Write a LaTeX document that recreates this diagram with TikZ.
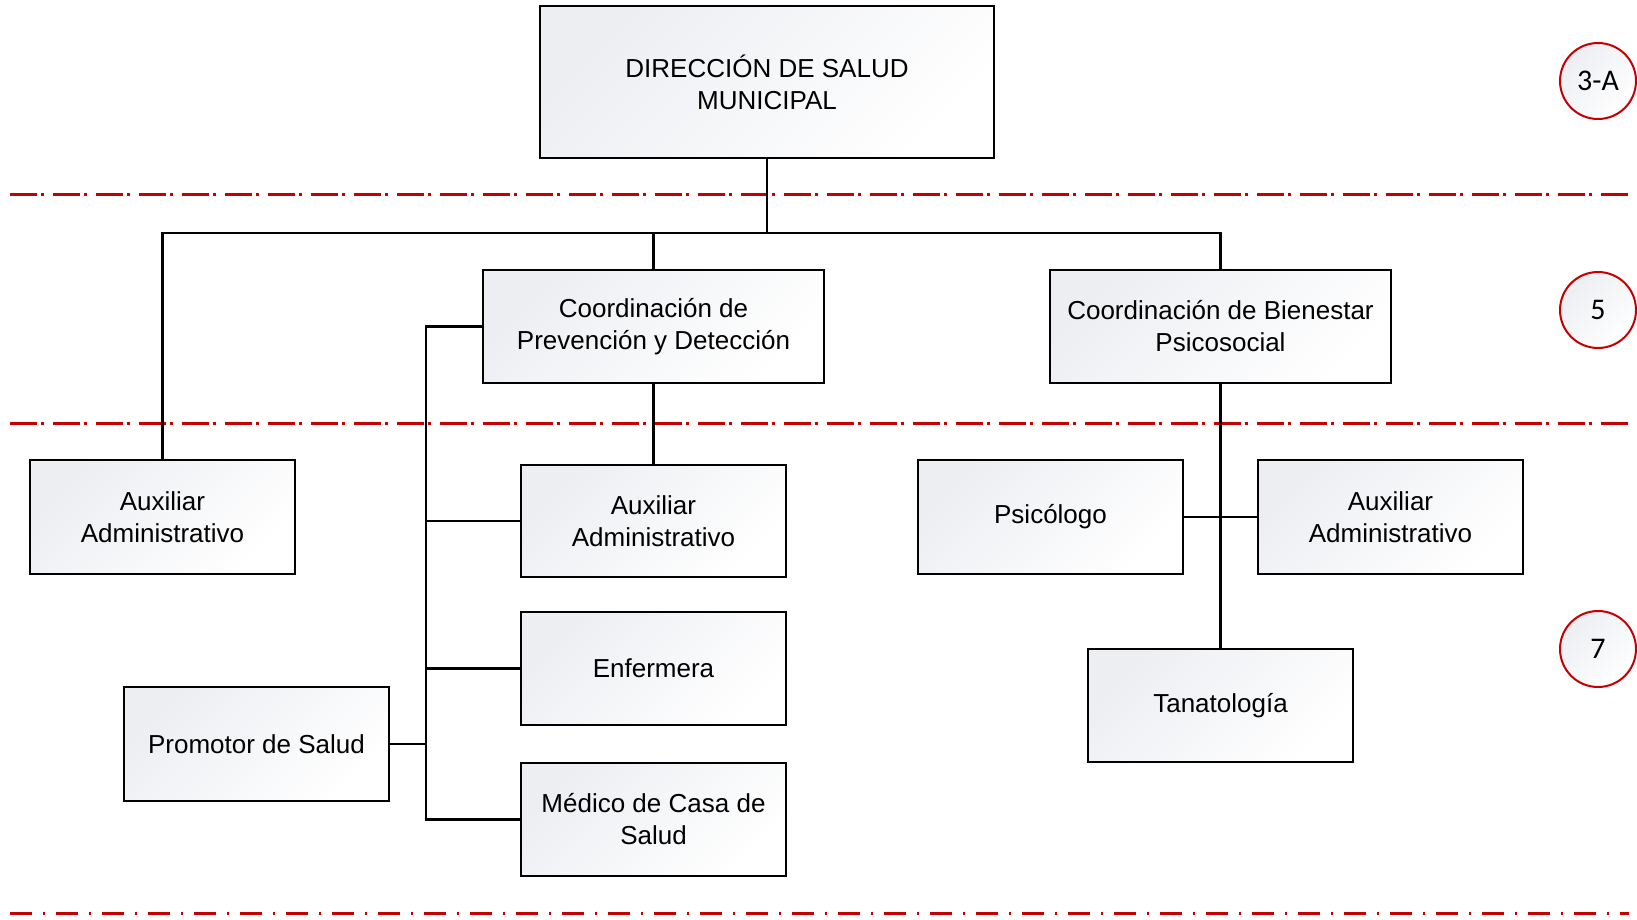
\documentclass[tikz,border=0pt]{standalone}
\usepackage{fontspec}
\setmainfont{Liberation Sans}
\newfontfamily\circfont{Carlito}
\definecolor{boxgray}{RGB}{236,238,242}
\definecolor{linered}{RGB}{196,0,0}

\begin{document}
\begin{tikzpicture}[x=1pt, y=-1pt]
% Box style
\tikzset{
    puesto/.style={draw, line width=2pt, shade, top color=boxgray, bottom color=white,
        shading angle=45, align=center, inner sep=0pt, font=\fontsize{26}{32}\selectfont},
    nivel/.style={circle, draw=linered, line width=2pt, shade, top color=boxgray, bottom color=white,
        shading angle=45, minimum size=76pt, inner sep=0pt, font=\circfont\fontsize{30}{34}\selectfont},
    linea/.style={line width=2.4pt},
    corte/.style={draw=linered, line width=3pt, dash pattern=on 27pt off 4pt on 3pt off 9pt}
}
\useasboundingbox (0,0) rectangle (1637,919);

% Dashed level lines
\draw[corte] (10,194) -- (1629,194);
\draw[corte] (10,423) -- (1629,423);
\draw[corte, dash pattern=on 22pt off 11pt on 2pt off 11pt] (10,913) -- (1629,913);

% Nodes
\node[puesto, minimum width=454pt, minimum height=152pt] (DIR) at (767, 82) {DIRECCIÓN DE SALUD\\MUNICIPAL};
\node[puesto, minimum width=341pt, minimum height=113pt] (CPD) at (653.5, 326.5) {Coordinación de\\Prevención y Detección};
\node[puesto, minimum width=341pt, minimum height=113pt] (CBP) at (1220.5, 326.5) {Coordinación de Bienestar\\Psicosocial};
\node[puesto, minimum width=265pt, minimum height=114pt] (AUX1) at (162.5, 517) {Auxiliar\\Administrativo};
\node[puesto, minimum width=265pt, minimum height=112pt] (AUX2) at (653.5, 521) {Auxiliar\\Administrativo};
\node[puesto, minimum width=265pt, minimum height=113pt] (ENF) at (653.5, 668.5) {Enfermera};
\node[puesto, minimum width=265pt, minimum height=113pt] (MED) at (653.5, 819.5) {Médico de Casa de\\Salud};
\node[puesto, minimum width=265pt, minimum height=114pt] (PROM) at (256.5, 744) {Promotor de Salud};
\node[puesto, minimum width=265pt, minimum height=114pt] (PSI) at (1050.5, 517) {Psicólogo};
\node[puesto, minimum width=265pt, minimum height=114pt] (AUX3) at (1390.5, 517) {Auxiliar\\Administrativo};
\node[puesto, minimum width=265pt, minimum height=113pt] (TAN) at (1220.5, 705.5) {Tanatología};

\node[nivel] (N1) at (1598, 81) {3-A};
\node[nivel] (N2) at (1598, 310) {5};
\node[nivel] (N3) at (1598, 649) {7};

% Connections
\coordinate (BUS) at (767, 233);
\draw[linea] (DIR.south) -- (BUS);
\draw[linea] (AUX1.north) |- (BUS) -| (CBP.north);
\draw[linea] (CPD.north) -- (CPD.north |- BUS);
\draw[linea] (CPD.south) -- (AUX2.north);

\draw[linea] (CPD.west) -- ++(-56, 0) coordinate (LB) -- (LB |- MED.west) -- (MED.west);
\draw[linea] (LB |- AUX2.west) -- (AUX2.west);
\draw[linea] (LB |- ENF.west) -- (ENF.west);
\draw[linea] (PROM.east) -- (LB |- PROM.east);

\draw[linea] (CBP.south) -- (TAN.north);
\draw[linea] (PSI.east) -- (AUX3.west);
\end{tikzpicture}
\end{document}
